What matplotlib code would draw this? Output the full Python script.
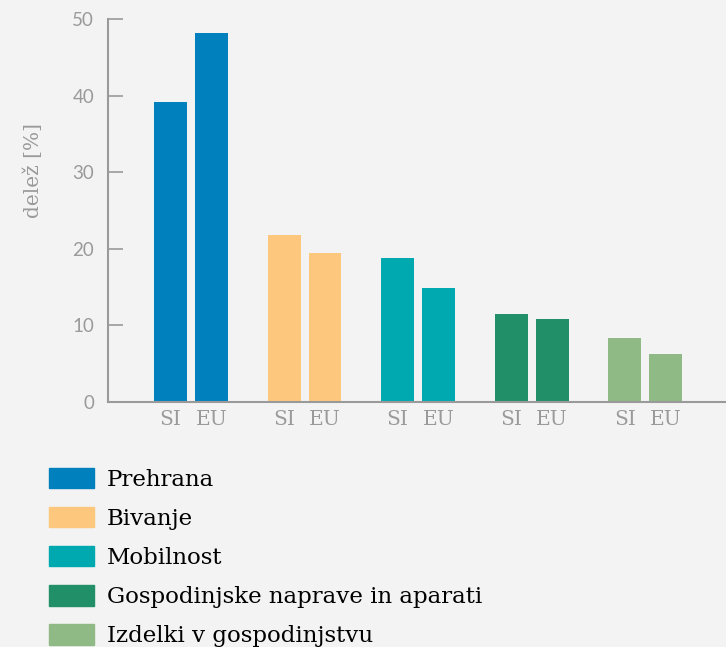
import numpy as np
import matplotlib.pyplot as plt
from matplotlib.patches import Patch

# podatki
kategorije = ['Prehrana', 'Bivanje', 'Mobilnost',
              'Gospodinjske naprave in aparati', 'Izdelki v gospodinjstvu']
si = [39.2, 21.8, 18.8, 11.5, 8.4]
eu = [48.2, 19.5, 14.9, 10.8, 6.3]
barve = ['#0080bc', '#fdc77d', '#00a9b0', '#218f68', '#8fba86']
oznake = ['SI', 'EU']

bg = '#f3f3f3'
siva = '#9a9a9a'

fig = plt.figure(figsize=(7.26, 6.47), dpi=100, facecolor=bg)
ax = fig.add_axes([108/726, 1-402/647, 1-108/726, (402-19)/647])
ax.set_facecolor(bg)

x = np.arange(len(kategorije))
w = 0.29
off = 0.18
ax.bar(x - off, si, width=w, color=barve)
ax.bar(x + off, eu, width=w, color=barve)

ax.set_xlim(-0.73, 4.71)
ax.set_ylim(0, 50)
ax.set_yticks([0, 10, 20, 30, 40, 50])
ax.tick_params(axis='y', direction='in', length=11, width=1.2, color=siva,
               labelcolor=siva, labelsize=13.5, pad=10)
for t in ax.get_yticklabels():
    t.set_family('Lato')

pos = np.concatenate([x - off, x + off])
ax.set_xticks(pos)
ax.set_xticklabels([oznake[0]] * len(x) + [oznake[1]] * len(x),
                   family='DejaVu Serif', fontsize=14.5, color=siva)
ax.tick_params(axis='x', length=0, pad=6)

for s in ['top', 'right']:
    ax.spines[s].set_visible(False)
for s in ['left', 'bottom']:
    ax.spines[s].set_color(siva)
    ax.spines[s].set_linewidth(1.5)

fig.text(33/726, 1-170/647, 'delež [%]', rotation=90, ha='center', va='center',
         color=siva, fontsize=14.5, family='DejaVu Serif')

handles = [Patch(color=c) for c in barve]
fig.legend(handles, kategorije, loc='upper left', bbox_to_anchor=(44/726, 1-463/647),
           frameon=False, prop={'family': 'DejaVu Serif', 'size': 16.5},
           handlelength=2.0, handleheight=1.0, labelspacing=0.7,
           handletextpad=0.55, borderaxespad=0, borderpad=0.2)

fig.savefig('out.png', dpi=100, facecolor=bg)
